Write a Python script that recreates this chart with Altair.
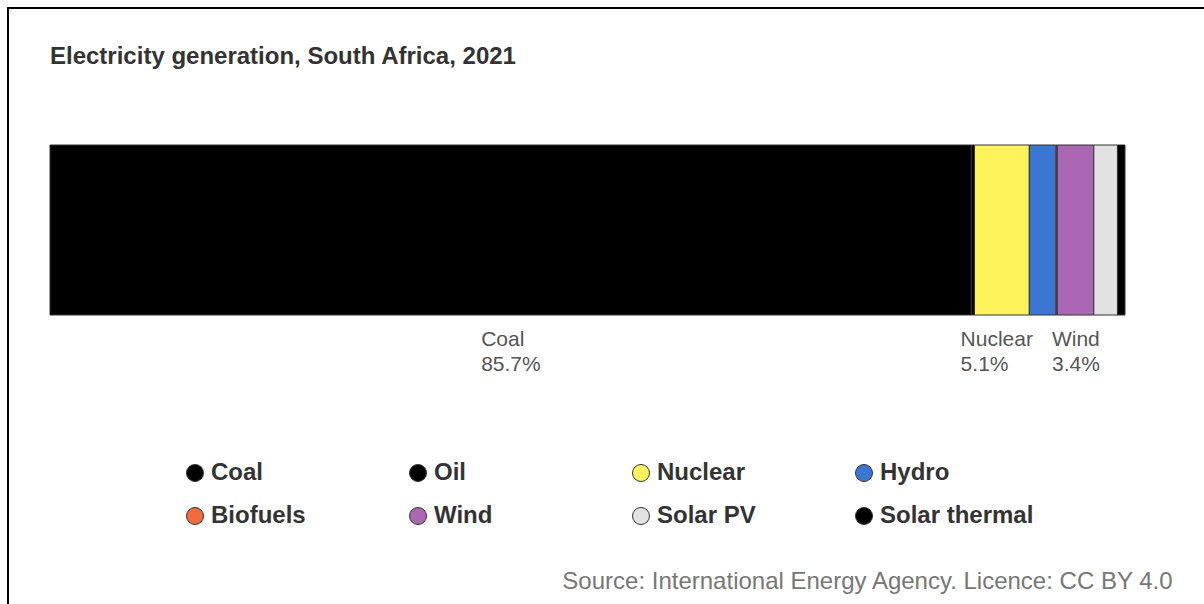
import altair as alt
import pandas as pd

# ---- data ----
sources = ["Coal", "Oil", "Nuclear", "Hydro", "Biofuels", "Wind", "Solar PV", "Solar thermal"]
shares = [85.7, 0.3, 5.1, 2.5, 0.1, 3.4, 2.2, 0.7]
colors = ["#000000", "#000000", "#fff35c", "#3a76d2", "#f26b3a", "#a967b4", "#e2e2e2", "#000000"]
label_threshold = 3.0

title_text = "Electricity generation, South Africa, 2021"
source_note = "Source: International Energy Agency. Licence: CC BY 4.0"

FONT = "Liberation Sans"
W, H = 1075, 170

df = pd.DataFrame({"source": sources, "share": shares, "order": list(range(len(sources)))})
df["end"] = df["share"].cumsum()
df["start"] = df["end"] - df["share"]

lab = df[df["share"] >= label_threshold].copy()
lab["pct"] = lab["share"].map(lambda v: f"{v:.1f}%")
lab["label"] = lab["source"] + "\n" + lab["pct"]
# left-aligned two-line block, centred on its segment by its longest line
px_per_unit = W / 100.0
lab["half"] = lab.apply(lambda r: max(len(r["source"]), len(r["pct"])) * 5.9, axis=1)
lab["labx"] = (lab["start"] + lab["end"]) / 2 - lab["half"] / px_per_unit

xscale = alt.Scale(domain=[0, 100], nice=False, zero=False)

bars = alt.Chart(df).mark_bar(stroke="#333333", strokeWidth=1).encode(
    x=alt.X(
        "start:Q",
        scale=xscale,
        axis=alt.Axis(
            domain=False, ticks=False, labels=False, grid=False,
            title=source_note, titleX=1122, titleY=273, titleAlign="right",
            titleBaseline="alphabetic", titleFont=FONT, titleFontSize=24,
            titleFontWeight="normal", titleColor="#777777",
        ),
    ),
    x2="end:Q",
    y=alt.value(0),
    y2=alt.value(H),
    color=alt.Color(
        "source:N",
        scale=alt.Scale(domain=sources, range=colors),
        legend=alt.Legend(
            title=None, orient="none", legendX=133, legendY=316,
            direction="horizontal", columns=4, gridAlign="all",
            symbolType="circle", symbolSize=289,
            symbolStrokeColor="#333333", symbolStrokeWidth=1,
            labelFont=FONT, labelFontSize=24, labelFontWeight="bold",
            labelColor="#333333", labelOffset=4, labelLimit=400,
            columnPadding=41, rowPadding=19, padding=0,
        ),
    ),
    order=alt.Order("order:Q"),
)

labels = alt.Chart(lab).mark_text(
    align="left", baseline="top", dy=99, lineBreak="\n", lineHeight=25,
    font=FONT, fontSize=21, color="#555555",
).encode(
    x=alt.X("labx:Q", scale=xscale),
    text="label:N",
)

frame = alt.Chart(pd.DataFrame({"k": [0]})).mark_rect(
    filled=False, stroke="#000000", strokeWidth=2
).encode(
    x=alt.value(-42), x2=alt.value(1160), y=alt.value(-137), y2=alt.value(470)
)

chart = alt.layer(frame, bars, labels).properties(
    width=W, height=H,
    title=alt.Title(
        title_text, anchor="start", frame="group", font=FONT, fontSize=24,
        fontWeight="bold", color="#333333", offset=0, dy=81, baseline="alphabetic",
    ),
    autosize=alt.AutoSizeParams(type="none"),
    padding={"left": 50, "top": 145, "right": 79, "bottom": 289},
).configure_view(stroke=None)

chart.save("out.html", embed_options={"renderer": "svg", "actions": False})
